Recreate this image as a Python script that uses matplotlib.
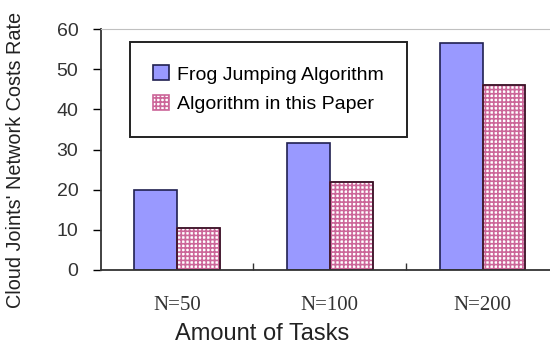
import numpy as np
import matplotlib.pyplot as plt

# Network costs rate per task amount
categories = ['N=50', 'N=100', 'N=200']
frog_jumping = [20, 31.5, 56.5]
this_paper = [10.5, 22, 46]
y_ticks = [0, 10, 20, 30, 40, 50, 60]

plt.rcParams['hatch.linewidth'] = 1.2

W, H = 550, 351
fig = plt.figure(figsize=(W / 100, H / 100), dpi=100)
ax = fig.add_axes([100.5 / W, 1 - 270 / H, (559 - 100.5) / W, (270 - 29) / H])

pos = np.arange(len(categories)) + 0.5
bw = 0.28
ax.bar(pos - bw / 2, frog_jumping, bw, color='#9999FF', edgecolor='#202050',
       linewidth=1.2, label='Frog Jumping Algorithm')
ax.bar(pos + bw / 2, this_paper, bw, color='white', edgecolor='#CC6699',
       hatch='++++', linewidth=1.2, label='Algorithm in this Paper')
# dark outline on top of the hatched bars
ax.bar(pos + bw / 2, this_paper, bw, fill=False, edgecolor='#301020', linewidth=1.2)

ax.set_xlim(0, 3)
ax.set_ylim(0, 60)
ax.set_yticks(y_ticks)
ax.set_xticks(pos)
ax.set_xticklabels(categories, family='Liberation Serif', fontsize=15, color='#333333')
ax.set_xticks([1, 2], minor=True)
ax.tick_params(axis='x', which='major', length=0, pad=19)
ax.tick_params(axis='x', which='minor', direction='in', length=5, width=1, color='#333333')
ax.tick_params(axis='y', direction='out', length=6, width=1, pad=10,
               labelsize=14, labelcolor='#333333')
for lab in ax.get_yticklabels():
    lab.set_family('Liberation Sans')

ax.spines['top'].set_color('#C0C0C0')
ax.spines['right'].set_visible(False)
ax.spines['left'].set_linewidth(1.3)
ax.spines['bottom'].set_linewidth(1.3)
ax.spines['left'].set_color('#333333')
ax.spines['bottom'].set_color('#333333')

leg = ax.legend(loc='upper left', bbox_to_anchor=(130 / W, 1 - 42 / H),
                bbox_transform=fig.transFigure, fancybox=False,
                edgecolor='#222222', framealpha=1,
                prop={'family': 'Liberation Sans', 'size': 14},
                handlelength=0.8, handleheight=0.8, handletextpad=0.4,
                borderpad=1.2, labelspacing=0.6, borderaxespad=0)
leg.get_frame().set_linewidth(1.4)

fig.text(16 / W, 1 - 160 / H, "Cloud Joints' Network Costs Rate", rotation=90,
         ha='center', va='center', family='Liberation Sans', fontsize=14.3, color='#222222')
fig.text(262 / W, 1 - 334 / H, 'Amount of Tasks', ha='center', va='center',
         family='Liberation Sans', fontsize=17, color='#222222')

fig.savefig('out.png', dpi=100)
